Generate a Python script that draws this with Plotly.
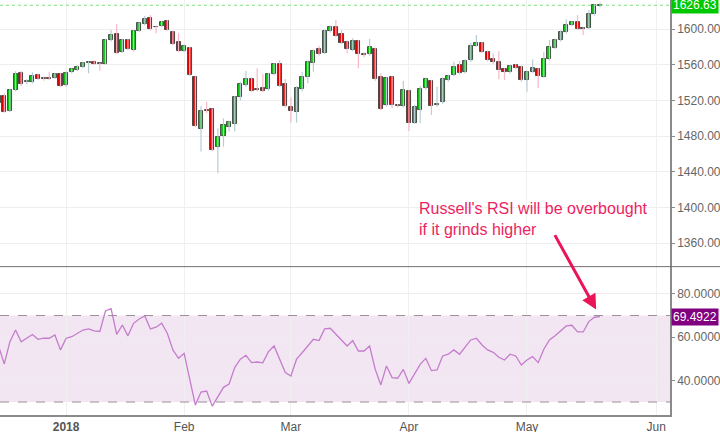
import pandas as pd
import plotly.graph_objects as go

# ---------------- data ----------------
holidays = ["2017-12-25", "2018-01-01", "2018-01-15", "2018-02-19", "2018-03-30"]
dates = [d for d in pd.bdate_range("2017-12-13", "2018-05-18")
         if d.strftime("%Y-%m-%d") not in holidays]
future_days = list(pd.bdate_range("2018-05-21", "2018-06-29"))
month_labels = ["<b>2018</b>", "Feb", "Mar", "Apr", "May", "Jun"]

open_ = [1516.7, 1525.3, 1508.5, 1531.7, 1551.1, 1540.2, 1541.0, 1548.5, 1545.5, 1545.5, 1545.5, 1549.6,
         1536.9, 1551.5, 1554.1, 1557.1, 1561.5, 1563.4, 1561.5, 1561.2, 1587.7, 1594.0, 1574.6, 1587.7,
         1576.5, 1598.1, 1605.2, 1612.7, 1602.6, 1603.7, 1608.6, 1596.6, 1585.8,
         1575.7, 1578.3, 1545.9, 1487.6, 1509.2, 1510.0, 1468.2, 1480.1, 1490.6, 1493.6, 1524.2, 1536.9,
         1543.6, 1532.7, 1534.3, 1532.4, 1549.6, 1560.4, 1538.0,
         1513.0, 1507.0, 1532.4, 1546.6, 1561.5, 1577.2, 1573.5, 1597.8, 1602.6, 1594.0, 1585.4, 1576.5,
         1586.6, 1572.0, 1571.6, 1577.2, 1545.9, 1514.9, 1545.9, 1514.9, 1513.7,
         1530.2, 1495.1, 1509.2, 1533.5, 1541.7, 1514.9, 1517.8, 1542.9, 1548.1, 1559.3, 1551.8, 1565.3,
         1581.3, 1583.9, 1574.6, 1566.0, 1563.4, 1554.8, 1551.8, 1559.7, 1557.8,
         1542.9, 1552.2, 1554.8, 1546.6, 1566.0, 1579.1, 1587.7, 1596.3, 1604.5, 1608.2, 1600.7, 1601.5,
         1616.8, 1625.8]
high = [1527.0, 1527.9, 1533.0, 1552.6, 1553.0, 1544.0, 1551.5, 1550.0, 1547.0, 1552.2, 1551.0, 1551.0,
        1552.5, 1556.0, 1559.0, 1563.0, 1564.0, 1565.0, 1562.5, 1589.0, 1598.9, 1605.6, 1589.0, 1589.0,
        1599.0, 1607.5, 1614.6, 1615.7, 1604.0, 1609.0, 1610.0, 1598.0, 1595.2,
        1583.0, 1580.0, 1547.0, 1513.7, 1518.6, 1511.0, 1488.7, 1499.9, 1497.5, 1525.0, 1541.0, 1552.9,
        1546.0, 1555.9, 1549.6, 1551.0, 1562.0, 1565.3, 1544.0,
        1523.4, 1536.0, 1552.2, 1565.0, 1577.0, 1581.3, 1599.5, 1604.1, 1610.1, 1598.9, 1587.0, 1589.5,
        1588.0, 1574.0, 1588.8, 1579.0, 1550.3, 1546.0, 1547.0, 1516.0, 1541.7,
        1532.0, 1515.0, 1536.1, 1546.0, 1543.0, 1535.4, 1546.0, 1549.0, 1563.4, 1564.5, 1566.0, 1584.7,
        1593.3, 1585.5, 1576.0, 1572.7, 1575.4, 1556.0, 1560.0, 1561.0, 1559.0,
        1553.5, 1566.0, 1556.0, 1574.6, 1587.7, 1589.0, 1598.5, 1610.8, 1609.0, 1615.7, 1602.0, 1621.3,
        1628.0, 1630.0]
low = [1514.0, 1506.3, 1507.0, 1530.0, 1536.0, 1538.0, 1539.0, 1543.0, 1542.0, 1543.0, 1544.0, 1535.0,
       1535.0, 1550.0, 1553.0, 1556.0, 1550.3, 1560.0, 1553.3, 1560.0, 1586.0, 1572.0, 1573.0, 1576.0,
       1575.0, 1597.0, 1604.0, 1598.0, 1595.2, 1602.0, 1598.0, 1582.0, 1574.0,
       1574.0, 1547.0, 1490.0, 1462.6, 1505.5, 1463.0, 1438.3, 1468.2, 1485.0, 1485.0, 1520.0, 1535.0,
       1529.0, 1530.0, 1529.0, 1531.0, 1548.0, 1535.0, 1512.0,
       1495.1, 1495.1, 1530.0, 1539.1, 1552.2, 1570.0, 1572.0, 1596.0, 1591.0, 1583.0, 1572.7, 1575.0,
       1555.9, 1568.3, 1570.0, 1542.0, 1509.0, 1513.0, 1511.1, 1512.0, 1512.0,
       1485.7, 1493.6, 1494.3, 1532.0, 1503.6, 1513.0, 1516.0, 1541.0, 1547.0, 1549.0, 1550.0, 1563.0,
       1580.0, 1573.0, 1564.0, 1561.0, 1543.6, 1542.9, 1550.0, 1555.0, 1541.0,
       1529.8, 1551.0, 1533.5, 1545.0, 1564.5, 1578.0, 1586.0, 1595.0, 1603.0, 1599.0, 1593.3, 1600.0,
       1615.0, 1624.5]
close = [1525.3, 1507.4, 1531.7, 1549.6, 1538.0, 1541.8, 1547.3, 1544.0, 1543.6, 1544.4, 1549.6, 1536.1,
         1551.1, 1554.8, 1557.8, 1561.5, 1562.7, 1561.2, 1560.4, 1587.7, 1593.3, 1573.5, 1587.7, 1577.6,
         1597.8, 1606.4, 1611.6, 1599.6, 1601.9, 1608.2, 1598.9, 1583.2, 1575.7,
         1581.3, 1548.5, 1491.3, 1508.5, 1508.1, 1464.4, 1479.4, 1492.4, 1496.2, 1523.4, 1538.0, 1544.4,
         1530.5, 1531.7, 1530.5, 1549.6, 1560.4, 1536.5, 1513.7,
         1508.1, 1534.3, 1546.6, 1563.4, 1575.7, 1572.0, 1598.1, 1602.6, 1592.2, 1584.7, 1577.2, 1586.6,
         1571.6, 1571.2, 1580.2, 1544.0, 1510.4, 1544.7, 1514.9, 1513.7, 1531.7,
         1494.3, 1513.0, 1533.1, 1544.4, 1513.7, 1516.0, 1544.4, 1547.3, 1557.8, 1550.3, 1564.1, 1581.3,
         1584.7, 1574.6, 1565.3, 1562.7, 1554.1, 1551.8, 1558.5, 1556.7, 1542.9,
         1552.2, 1555.9, 1547.3, 1566.0, 1580.2, 1587.7, 1597.0, 1604.5, 1607.5, 1600.4, 1599.6, 1616.8,
         1626.9, 1626.63]
rsi = [55.6, 47.6, 57.9, 63.3, 57.9, 59.5, 61.2, 59.0, 59.5, 59.5, 61.0, 54.1,
       59.5, 60.2, 61.8, 63.3, 63.8, 62.9, 62.6, 72.1, 73.2, 61.3, 65.6, 60.6, 66.4, 68.4, 69.8, 63.8,
       64.6, 66.4, 61.8, 54.1, 50.2,
       52.5, 40.5, 28.6, 34.6, 35.1, 28.1, 32.5, 36.8, 38.3, 45.9, 49.8, 51.6, 48.2, 48.5, 48.1, 53.3,
       55.9, 49.8, 43.6,
       42.0, 49.8, 52.8, 55.9, 59.0, 58.4, 63.8, 64.1, 61.3, 58.4, 55.9, 58.4, 53.6, 53.6, 55.9, 45.1,
       37.9, 46.7, 41.3, 41.0, 45.1,
       38.6, 43.3, 47.4, 50.2, 44.5, 44.8, 51.3, 52.1, 54.1, 52.1, 55.2, 58.7, 59.5, 56.4, 54.1, 53.0,
       50.7, 49.4, 52.1, 51.3, 47.1,
       49.4, 51.0, 48.2, 54.4, 58.7, 60.6, 62.9, 65.2, 65.5, 62.4, 62.4, 67.2, 69.2, 69.4922]
rsi_upper, rsi_lower = 70, 30
note_text = "Russell's RSI will be overbought<br>if it grinds higher"

assert len(dates) == len(open_) == len(high) == len(low) == len(close) == len(rsi)

# ---------------- derived ----------------
idx = list(range(len(dates)))
all_days = dates + future_days
tickvals = [k for k in range(1, len(all_days)) if all_days[k].month != all_days[k - 1].month][:len(month_labels)]

up = [c >= o for o, c in zip(open_, close)]
GREEN, RED = "#0cc40c", "#e30000"
WICK_UP, WICK_DN = "#b7cdd5", "#f6b8c6"
NARROW = "Liberation Sans Narrow, Arial Narrow, Liberation Sans, Arial, sans-serif"


def wick_xy(sel):
    xs, ys = [], []
    for i in idx:
        if up[i] == sel:
            xs += [i, i, None]
            ys += [low[i], high[i], None]
    return xs, ys


fig = go.Figure()
for sel, col in ((True, WICK_UP), (False, WICK_DN)):
    wx, wy = wick_xy(sel)
    fig.add_trace(go.Scatter(x=wx, y=wy, mode="lines", line=dict(color=col, width=1.2),
                             hoverinfo="skip", showlegend=False, yaxis="y"))

fig.add_trace(go.Bar(
    x=idx,
    base=[min(o, c) for o, c in zip(open_, close)],
    y=[max(abs(c - o), 0.3) for o, c in zip(open_, close)],
    width=0.72,
    marker=dict(color=[GREEN if u else RED for u in up],
                line=dict(color="#3c3c3c", width=0.9)),
    showlegend=False, yaxis="y"))

fig.add_trace(go.Scatter(x=idx, y=rsi, mode="lines", line=dict(color="#c47dcc", width=1.3),
                         showlegend=False, yaxis="y2"))

split = 0.3575
axis_font = dict(family=NARROW, size=12, color="#666666")

fig.update_layout(
    template="none",
    width=720, height=432,
    margin=dict(l=0, r=50, t=0, b=17, autoexpand=False),
    paper_bgcolor="white", plot_bgcolor="white",
    font=dict(family="Liberation Sans, Arial, sans-serif"),
    showlegend=False, bargap=0,
    xaxis=dict(range=[0.235, 119.45], anchor="y2", tickmode="array",
               tickvals=tickvals, ticktext=month_labels, automargin=False,
               showgrid=True, gridcolor="#f0f0f0", gridwidth=1,
               showline=True, linecolor="#8a8a8a", linewidth=1.5,
               ticks="", tickfont=dict(family=NARROW, size=12, color="#555555"),
               zeroline=False, fixedrange=True),
    yaxis=dict(domain=[split, 1], range=[1333.7, 1632.5], side="right", anchor="x",
               tickmode="linear", tick0=1360, dtick=40, tickformat=".2f", automargin=False,
               showgrid=True, gridcolor="#eeeeee", zeroline=False,
               showline=True, linecolor="#8a8a8a", linewidth=1.5,
               ticks="outside", ticklen=3, tickcolor="#8a8a8a", tickfont=axis_font),
    yaxis2=dict(domain=[0, split], range=[24.0, 92.6], side="right", anchor="x",
                tickmode="linear", tick0=0, dtick=20, tickformat=".4f", automargin=False,
                showgrid=True, gridcolor="#f1eaf1", zeroline=False,
                showline=True, linecolor="#8a8a8a", linewidth=1.5,
                ticks="outside", ticklen=3, tickcolor="#8a8a8a", tickfont=axis_font),
)

shapes = [
    dict(type="rect", xref="paper", yref="y2", x0=0, x1=1, y0=rsi_lower, y1=rsi_upper,
         fillcolor="#f3e6f3", line=dict(width=0), layer="below"),
    dict(type="line", xref="paper", yref="y2", x0=0, x1=1, y0=rsi_upper, y1=rsi_upper,
         line=dict(color="#9a8f9a", width=1, dash="dash")),
    dict(type="line", xref="paper", yref="y2", x0=0, x1=1, y0=rsi_lower, y1=rsi_lower,
         line=dict(color="#9a8f9a", width=1, dash="dash")),
    dict(type="line", xref="paper", yref="y", x0=0, x1=1, y0=close[-1], y1=close[-1],
         line=dict(color="#7fe07f", width=1, dash="dot")),
    dict(type="line", xref="paper", yref="paper", x0=0, x1=1.08, y0=split, y1=split,
         line=dict(color="#707070", width=1)),
]
fig.update_layout(shapes=shapes)

annotations = [
    dict(xref="paper", yref="y", x=1, y=close[-1], xanchor="left", yanchor="middle",
         text=f"{close[-1]:.2f}", showarrow=False, bgcolor="#00c800", borderpad=1,
         font=dict(family=NARROW, size=12, color="white"), xshift=1),
    dict(xref="paper", yref="y2", x=1, y=rsi[-1], xanchor="left", yanchor="middle",
         text=f"{rsi[-1]:.4f}", showarrow=False, bgcolor="#800080", borderpad=1,
         font=dict(family=NARROW, size=12, color="white"), xshift=1),
    dict(xref="paper", yref="paper", x=0.6224, y=0.4723, xanchor="left", yanchor="middle",
         align="left", text=note_text, showarrow=False,
         font=dict(family="Liberation Sans, Arial, sans-serif", size=16, color="#ec1f62")),
    dict(xref="x", yref="y2", x=idx[-1], y=rsi[-1], text="", showarrow=True,
         ax=-46, ay=-83, arrowhead=2, arrowsize=1, arrowwidth=3, arrowcolor="#ec1458",
         standoff=8),
]
fig.update_layout(annotations=annotations)

fig.write_html("out.html", config={"displayModeBar": False},
               post_script="document.body.style.margin='0';document.body.style.padding='0';")
